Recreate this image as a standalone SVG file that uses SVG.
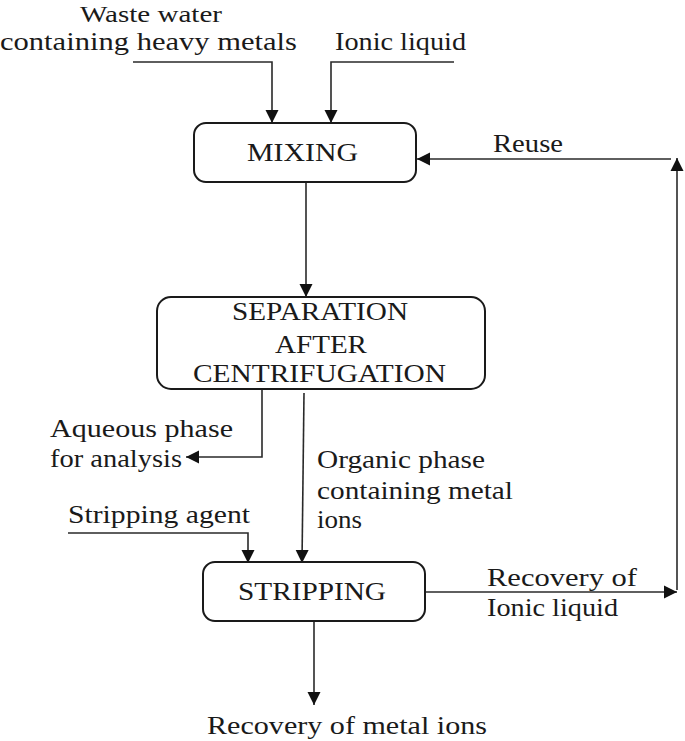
<svg xmlns="http://www.w3.org/2000/svg" width="685" height="741" viewBox="0 0 685 741">
<style>
text{font-family:"Liberation Serif","Times New Roman",serif;font-size:26px;fill:#1a1a1a}
.box{fill:#fff;stroke:#1a1a1a;stroke-width:2}
.c{fill:none;stroke:#2a2a2a;stroke-width:1.6}
</style>
<defs>
<marker id="ah" markerUnits="userSpaceOnUse" markerWidth="14" markerHeight="14" refX="13" refY="6.5" orient="auto" viewBox="0 0 14 13">
<path d="M0,0 L13,6.5 L0,13 z" fill="#111"/>
</marker>
</defs>
<rect width="685" height="741" fill="#fff"/>
<g id="connectors">
<path class="c" d="M133,62 H272 V123" marker-end="url(#ah)"/>
<path class="c" d="M454,62 H331 V123" marker-end="url(#ah)"/>
<path class="c" d="M306,182 V297" marker-end="url(#ah)"/>
<path class="c" d="M262,389 V457 H186" marker-end="url(#ah)"/>
<path class="c" d="M304,393 L302,563" marker-end="url(#ah)"/>
<path class="c" d="M68,533 H248 V563" marker-end="url(#ah)"/>
<path class="c" d="M314,621 V705" marker-end="url(#ah)"/>
<path class="c" d="M425,592 H677" marker-end="url(#ah)"/>
<path class="c" d="M677,590 V158" marker-end="url(#ah)"/>
<path class="c" d="M671,159 H417" marker-end="url(#ah)"/>
</g>
<g id="labels">
<text x="80" y="22" style="font-size:24px" textLength="142" lengthAdjust="spacingAndGlyphs">Waste water</text>
<text x="0" y="50" textLength="297" lengthAdjust="spacingAndGlyphs">containing  heavy  metals</text>
<text x="335" y="50" textLength="131" lengthAdjust="spacingAndGlyphs">Ionic  liquid</text>
<text x="493" y="152" textLength="70" lengthAdjust="spacingAndGlyphs">Reuse</text>
<text x="50" y="437" textLength="183" lengthAdjust="spacingAndGlyphs">Aqueous  phase</text>
<text x="50" y="467" textLength="132" lengthAdjust="spacingAndGlyphs">for  analysis</text>
<text x="317" y="468" textLength="168" lengthAdjust="spacingAndGlyphs">Organic  phase</text>
<text x="317" y="499" textLength="196" lengthAdjust="spacingAndGlyphs">containing  metal</text>
<text x="317" y="528" textLength="45" lengthAdjust="spacingAndGlyphs">ions</text>
<text x="68" y="523" textLength="182" lengthAdjust="spacingAndGlyphs">Stripping  agent</text>
<text x="487" y="586" textLength="150" lengthAdjust="spacingAndGlyphs">Recovery  of</text>
<text x="487" y="616" textLength="131" lengthAdjust="spacingAndGlyphs">Ionic  liquid</text>
<text x="207" y="734" textLength="280" lengthAdjust="spacingAndGlyphs">Recovery  of metal  ions</text>
</g>
<g id="mixing">
<rect class="box" x="194" y="123" width="222" height="59" rx="12"/>
<text x="247" y="161" textLength="111" lengthAdjust="spacingAndGlyphs">MIXING</text>
</g>
<g id="separation">
<rect class="box" x="157" y="297" width="328" height="92" rx="14"/>
<text x="232" y="320" textLength="176" lengthAdjust="spacingAndGlyphs">SEPARATION</text>
<text x="275" y="353" textLength="92" lengthAdjust="spacingAndGlyphs">AFTER</text>
<text x="193" y="382" textLength="253" lengthAdjust="spacingAndGlyphs">CENTRIFUGATION</text>
</g>
<g id="stripping">
<rect class="box" x="203" y="562" width="222" height="59" rx="12"/>
<text x="238" y="600" textLength="148" lengthAdjust="spacingAndGlyphs">STRIPPING</text>
</g>
</svg>
